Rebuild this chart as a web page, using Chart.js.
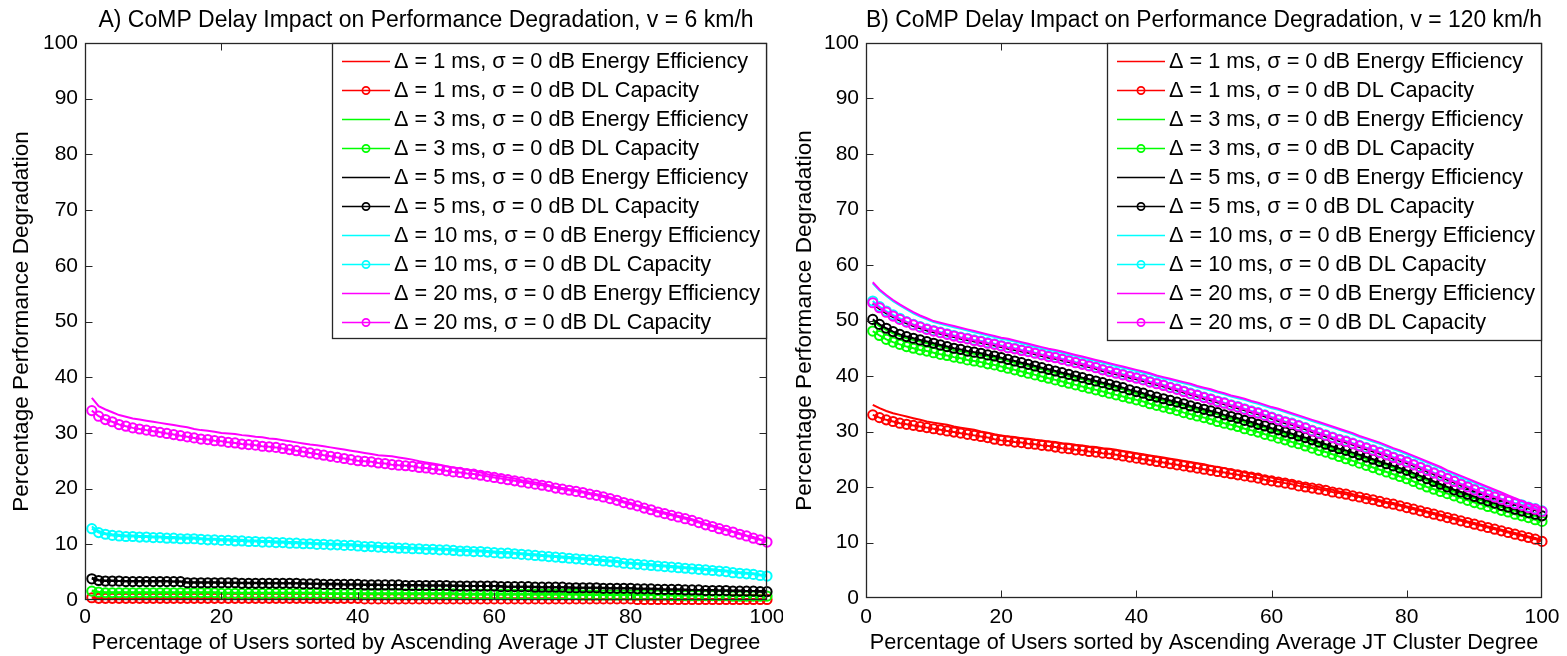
<!DOCTYPE html>
<html>
<head>
<meta charset="utf-8">
<script src="https://cdn.jsdelivr.net/npm/chart.js@4.4.0/dist/chart.umd.min.js"></script>
<style>
  html, body { margin: 0; padding: 0; background: #fff; overflow: hidden; }
  #wrap { position: relative; width: 1567px; height: 656px; }
  canvas { position: absolute; top: 0; }
  #cA { left: 0; }
  #cB { left: 783px; }
</style>
</head>
<body>
<div id="wrap">
  <canvas id="cA" width="783" height="656"></canvas>
  <canvas id="cB" width="784" height="656"></canvas>
</div>
<script>
// ---------------- DATA ----------------
const titleA = 'A) CoMP Delay Impact on Performance Degradation, v = 6 km/h';
const titleB = 'B) CoMP Delay Impact on Performance Degradation, v = 120 km/h';
const xAxisTitle = 'Percentage of Users sorted by Ascending Average JT Cluster Degree';
const yAxisTitle = 'Percentage Performance Degradation';
const delays = [1, 3, 5, 10, 20];           // ms
const metrics = ['Energy Efficiency', 'DL Capacity'];
const seriesColors = ['#ff0000', '#00ff00', '#000000', '#00ffff', '#ff00ff'];
const xTicks = [0, 20, 40, 60, 80, 100];
const yTicks = [0, 10, 20, 30, 40, 50, 60, 70, 80, 90, 100];

const userPct = [1,2,3,4,5,6,7,8,9,10,11,12,13,14,15,16,17,18,19,20,21,22,23,24,25,26,27,28,29,30,
31,32,33,34,35,36,37,38,39,40,41,42,43,44,45,46,47,48,49,50,51,52,53,54,55,56,57,58,59,60,
61,62,63,64,65,66,67,68,69,70,71,72,73,74,75,76,77,78,79,80,81,82,83,84,85,86,87,88,89,90,
91,92,93,94,95,96,97,98,99,100];

// ---- Panel A (v = 6 km/h) ----
const A_ee1 = [0.5,0.4,0.4,0.4,0.4,0.4,0.4,0.4,0.4,0.4, 0.4,0.4,0.4,0.4,0.4,0.4,0.4,0.4,0.4,0.4, 0.4,0.4,0.4,0.4,0.4,0.4,0.4,0.4,0.4,0.4,
 0.3,0.3,0.3,0.3,0.3,0.3,0.3,0.3,0.3,0.3, 0.3,0.3,0.3,0.3,0.3,0.3,0.3,0.3,0.3,0.3, 0.3,0.3,0.3,0.3,0.3,0.3,0.3,0.3,0.3,0.3,
 0.3,0.3,0.3,0.3,0.3,0.3,0.3,0.3,0.3,0.3, 0.2,0.2,0.2,0.2,0.2,0.2,0.2,0.2,0.2,0.2, 0.2,0.2,0.2,0.2,0.2,0.2,0.2,0.2,0.2,0.2,
 0.2,0.2,0.2,0.2,0.2,0.2,0.2,0.2,0.2,0.2];
const A_cap1 = [0.4,0.3,0.3,0.3,0.3,0.3,0.3,0.3,0.3,0.3, 0.3,0.3,0.3,0.3,0.3,0.3,0.3,0.3,0.3,0.3, 0.3,0.3,0.3,0.3,0.3,0.3,0.3,0.3,0.3,0.3,
 0.3,0.3,0.3,0.3,0.3,0.3,0.3,0.3,0.3,0.3, 0.2,0.2,0.2,0.2,0.2,0.2,0.2,0.2,0.2,0.2, 0.2,0.2,0.2,0.2,0.2,0.2,0.2,0.2,0.2,0.2,
 0.2,0.2,0.2,0.2,0.2,0.2,0.2,0.2,0.2,0.2, 0.2,0.2,0.2,0.2,0.2,0.2,0.2,0.2,0.2,0.2, 0.1,0.1,0.1,0.1,0.1,0.1,0.1,0.1,0.1,0.1,
 0.1,0.1,0.1,0.1,0.1,0.1,0.1,0.1,0.1,0.1];
const A_ee3 = [1.7,1.5,1.4,1.4,1.4,1.4,1.4,1.4,1.4,1.4, 1.4,1.4,1.4,1.4,1.4,1.4,1.4,1.4,1.4,1.3, 1.3,1.3,1.3,1.3,1.3,1.3,1.3,1.3,1.3,1.3,
 1.3,1.3,1.3,1.3,1.3,1.2,1.2,1.2,1.2,1.2, 1.2,1.2,1.2,1.2,1.2,1.2,1.2,1.2,1.2,1.2, 1.2,1.2,1.2,1.2,1.1,1.1,1.1,1.1,1.1,1.1,
 1.1,1.1,1.1,1.1,1.1,1.1,1.1,1.1,1.1,1.1, 1.1,1.1,1.0,1.0,1.0,1.0,1.0,1.0,1.0,1.0, 1.0,1.0,1.0,1.0,1.0,0.9,0.9,0.9,0.9,0.9,
 0.9,0.9,0.9,0.9,0.8,0.8,0.8,0.8,0.8,0.8];
const A_cap3 = [1.6,1.4,1.3,1.3,1.3,1.3,1.3,1.3,1.3,1.3, 1.3,1.3,1.3,1.3,1.3,1.3,1.3,1.3,1.3,1.2, 1.2,1.2,1.2,1.2,1.2,1.2,1.2,1.2,1.2,1.2,
 1.2,1.2,1.2,1.2,1.2,1.1,1.1,1.1,1.1,1.1, 1.1,1.1,1.1,1.1,1.1,1.1,1.1,1.1,1.1,1.1, 1.1,1.1,1.1,1.1,1.0,1.0,1.0,1.0,1.0,1.0,
 1.0,1.0,1.0,1.0,1.0,1.0,1.0,1.0,1.0,1.0, 1.0,1.0,0.9,0.9,0.9,0.9,0.9,0.9,0.9,0.9, 0.9,0.9,0.9,0.9,0.9,0.8,0.8,0.8,0.8,0.8,
 0.8,0.8,0.8,0.8,0.7,0.7,0.7,0.7,0.7,0.7];
const A_ee5 = [4.0,3.6,3.5,3.5,3.4,3.4,3.4,3.4,3.4,3.4, 3.4,3.4,3.3,3.3,3.2,3.2,3.2,3.2,3.2,3.1, 3.1,3.1,3.1,3.1,3.1,3.0,3.0,3.0,3.0,3.0,
 3.0,3.0,2.9,2.9,2.9,2.9,2.9,2.8,2.8,2.8, 2.8,2.8,2.8,2.7,2.7,2.7,2.7,2.7,2.7,2.6, 2.6,2.6,2.6,2.6,2.6,2.5,2.5,2.5,2.5,2.5,
 2.5,2.4,2.4,2.4,2.4,2.4,2.3,2.3,2.3,2.3, 2.3,2.2,2.2,2.2,2.2,2.2,2.1,2.1,2.1,2.1, 2.0,2.0,2.0,2.0,1.9,1.9,1.9,1.9,1.8,1.8,
 1.8,1.8,1.7,1.7,1.7,1.7,1.6,1.6,1.6,1.6];
const A_cap5 = [3.8,3.5,3.4,3.4,3.4,3.3,3.3,3.3,3.3,3.3, 3.3,3.3,3.3,3.3,3.1,3.1,3.1,3.1,3.1,3.1, 3.1,3.1,3.0,3.0,3.0,3.0,3.0,3.0,3.0,3.0,
 3.0,2.9,2.9,2.9,2.8,2.8,2.8,2.8,2.8,2.8, 2.7,2.7,2.7,2.7,2.7,2.7,2.6,2.6,2.6,2.6, 2.6,2.6,2.6,2.5,2.5,2.5,2.5,2.5,2.5,2.5,
 2.4,2.4,2.4,2.4,2.4,2.3,2.3,2.3,2.3,2.3, 2.2,2.2,2.2,2.2,2.2,2.1,2.1,2.1,2.1,2.1, 2.0,2.0,2.0,1.9,1.9,1.9,1.9,1.8,1.8,1.8,
 1.7,1.7,1.7,1.7,1.6,1.6,1.6,1.6,1.5,1.5];
const A_ee10 = [13.2,12.4,12.0,11.8,11.7,11.6,11.6,11.5,11.5,11.4, 11.4,11.3,11.3,11.2,11.2,11.2,11.1,11.0,11.0,10.9,
 10.9,10.8,10.8,10.7,10.7,10.6,10.6,10.5,10.5,10.4, 10.4,10.3,10.3,10.2,10.2,10.1,10.1,10.0,10.0,9.9,
 9.8,9.8,9.7,9.6,9.6,9.5,9.5,9.4,9.4,9.3, 9.3,9.2,9.2,9.1,9.0,9.0,8.9,8.9,8.8,8.7,
 8.6,8.6,8.5,8.4,8.3,8.2,8.1,8.0,7.9,7.8, 7.7,7.6,7.5,7.4,7.3,7.2,7.1,7.0,6.8,6.7,
 6.6,6.5,6.4,6.3,6.2,6.1,6.0,5.9,5.8,5.7, 5.6,5.5,5.4,5.3,5.1,5.0,4.9,4.8,4.6,4.5];
const A_cap10 = [12.8,12.1,11.8,11.6,11.5,11.4,11.4,11.3,11.3,11.2, 11.2,11.1,11.1,11.0,11.0,11.0,10.9,10.8,10.8,10.7,
 10.7,10.6,10.6,10.5,10.5,10.4,10.4,10.3,10.3,10.2, 10.2,10.1,10.1,10.0,10.0,9.9,9.9,9.8,9.8,9.7,
 9.6,9.6,9.5,9.4,9.4,9.3,9.3,9.2,9.2,9.1, 9.1,9.0,9.0,8.9,8.8,8.8,8.7,8.7,8.6,8.5,
 8.4,8.4,8.3,8.2,8.1,8.0,7.9,7.8,7.7,7.6, 7.5,7.4,7.3,7.2,7.1,7.0,6.9,6.8,6.6,6.5,
 6.4,6.3,6.2,6.1,6.0,5.9,5.8,5.7,5.6,5.5, 5.4,5.3,5.2,5.1,4.9,4.8,4.7,4.6,4.4,4.3];
const A_ee20 = [36.3,34.8,34.2,33.7,33.2,32.9,32.6,32.4,32.2,32.0, 31.8,31.6,31.4,31.2,31.0,30.7,30.5,30.4,30.2,30.0,
 29.9,29.8,29.6,29.5,29.3,29.2,29.0,28.9,28.7,28.5, 28.3,28.1,27.9,27.8,27.6,27.4,27.2,27.0,26.8,26.6,
 26.4,26.2,26.0,25.9,25.8,25.6,25.4,25.2,24.9,24.7, 24.5,24.3,24.0,23.8,23.6,23.4,23.2,22.9,22.6,22.4,
 22.2,22.0,21.8,21.5,21.3,21.1,20.9,20.6,20.3,20.1, 19.9,19.7,19.5,19.2,19.0,18.7,18.4,18.1,17.7,17.4,
 17.0,16.7,16.3,16.0,15.7,15.4,15.1,14.8,14.5,14.1, 13.7,13.4,13.0,12.7,12.3,12.0,11.6,11.3,10.9,10.6];
const A_cap20 = [34.0,33.0,32.4,32.0,31.5,31.2,30.9,30.7,30.5,30.3, 30.1,29.9,29.7,29.5,29.3,29.1,28.9,28.8,28.6,28.5,
 28.3,28.2,28.0,27.9,27.8,27.6,27.5,27.4,27.2,27.0, 26.8,26.6,26.4,26.2,26.0,25.8,25.6,25.4,25.2,25.0,
 24.9,24.8,24.6,24.5,24.3,24.2,24.1,24.0,23.8,23.7, 23.5,23.4,23.2,23.0,22.9,22.7,22.6,22.4,22.2,22.0,
 21.8,21.6,21.4,21.2,21.0,20.8,20.6,20.4,20.1,19.9, 19.7,19.5,19.3,19.0,18.8,18.5,18.2,17.9,17.5,17.2,
 16.9,16.5,16.2,15.8,15.5,15.2,14.9,14.6,14.3,13.9, 13.5,13.2,12.8,12.5,12.2,11.8,11.5,11.1,10.8,10.4];

// ---- Panel B (v = 120 km/h) ----
const B_ee1 = [34.8,34.2,33.7,33.3,33.0,32.7,32.4,32.1,31.8,31.6, 31.4,31.2,30.9,30.7,30.5,30.3,30.0,29.8,29.5,29.3,
 29.1,29.0,28.8,28.7,28.5,28.4,28.2,28.1,27.9,27.8, 27.6,27.5,27.3,27.2,27.0,26.9,26.7,26.5,26.3,26.1,
 25.9,25.7,25.5,25.3,25.1,24.9,24.7,24.5,24.3,24.1, 23.8,23.6,23.4,23.1,22.9,22.6,22.4,22.2,21.9,21.7,
 21.4,21.2,21.0,20.7,20.5,20.2,20.0,19.7,19.5,19.2, 19.0,18.7,18.4,18.2,17.9,17.6,17.3,17.1,16.8,16.5,
 16.2,15.9,15.6,15.3,15.0,14.7,14.4,14.1,13.8,13.5, 13.2,12.9,12.6,12.3,12.0,11.7,11.4,11.1,10.8,10.4];
const B_cap1 = [33.0,32.5,32.1,31.8,31.5,31.3,31.1,30.9,30.7,30.5, 30.3,30.1,29.9,29.7,29.5,29.3,29.1,28.9,28.6,28.4,
 28.3,28.1,28.0,27.8,27.7,27.5,27.4,27.2,27.0,26.9, 26.7,26.6,26.4,26.3,26.1,26.0,25.8,25.6,25.4,25.2,
 25.0,24.8,24.6,24.4,24.2,24.0,23.8,23.6,23.4,23.2, 23.0,22.8,22.6,22.4,22.2,22.0,21.8,21.6,21.3,21.1,
 20.9,20.7,20.5,20.2,20.0,19.8,19.6,19.4,19.1,18.9, 18.7,18.4,18.2,17.9,17.7,17.4,17.1,16.9,16.6,16.3,
 16.0,15.7,15.4,15.1,14.8,14.5,14.2,13.9,13.6,13.3, 13.0,12.7,12.4,12.1,11.8,11.5,11.2,10.9,10.6,10.2];
const B_ee3 = [49.9,49.0,48.3,47.7,47.2,46.8,46.5,46.2,45.9,45.6, 45.3,45.0,44.7,44.5,44.2,44.0,43.8,43.5,43.3,43.0,
 42.7,42.4,42.1,41.8,41.5,41.2,40.9,40.6,40.3,40.0, 39.7,39.4,39.1,38.8,38.5,38.2,37.9,37.6,37.2,36.9,
 36.6,36.2,35.9,35.6,35.3,35.0,34.7,34.3,34.0,33.7, 33.4,33.1,32.7,32.4,32.1,31.7,31.4,31.0,30.7,30.3,
 30.0,29.6,29.3,28.9,28.6,28.2,27.8,27.4,27.0,26.6, 26.3,25.9,25.5,25.1,24.7,24.3,23.9,23.5,23.1,22.7,
 22.2,21.7,21.2,20.7,20.2,19.7,19.2,18.8,18.4,18.0, 17.6,17.2,16.8,16.4,16.1,15.7,15.4,15.1,14.8,14.5];
const B_cap3 = [48.1,47.3,46.6,46.1,45.7,45.3,45.0,44.7,44.5,44.2, 43.9,43.7,43.4,43.2,42.9,42.7,42.5,42.2,42.0,41.7,
 41.4,41.1,40.8,40.5,40.2,39.9,39.6,39.3,39.0,38.7, 38.4,38.1,37.8,37.5,37.2,36.9,36.6,36.3,36.0,35.7,
 35.4,35.0,34.7,34.4,34.1,33.8,33.4,33.1,32.8,32.5, 32.2,31.8,31.5,31.2,30.9,30.5,30.2,29.9,29.5,29.2,
 28.8,28.5,28.1,27.8,27.4,27.0,26.6,26.3,25.9,25.5, 25.1,24.7,24.3,23.9,23.5,23.1,22.7,22.3,21.9,21.5,
 21.0,20.5,20.0,19.6,19.2,18.8,18.4,18.0,17.6,17.2, 16.9,16.5,16.2,15.8,15.5,15.1,14.8,14.5,14.1,13.8];
const B_ee5 = [53.0,52.1,51.3,50.6,50.0,49.5,49.0,48.6,48.2,47.9, 47.6,47.3,47.0,46.7,46.5,46.2,46.0,45.7,45.5,45.2,
 44.9,44.7,44.4,44.2,43.9,43.6,43.3,43.1,42.8,42.5, 42.2,41.9,41.6,41.3,40.9,40.6,40.3,40.0,39.7,39.4,
 39.1,38.7,38.4,38.1,37.7,37.4,37.0,36.6,36.3,35.9, 35.6,35.2,34.9,34.5,34.2,33.8,33.4,33.1,32.7,32.3,
 31.9,31.5,31.2,30.8,30.4,29.9,29.5,29.1,28.7,28.3, 28.0,27.6,27.2,26.8,26.4,26.0,25.6,25.1,24.7,24.3,
 23.8,23.3,22.8,22.3,21.8,21.3,20.8,20.3,19.8,19.3, 18.8,18.4,18.0,17.6,17.2,16.8,16.5,16.1,15.8,15.4];
const B_cap5 = [50.2,49.3,48.6,48.0,47.5,47.1,46.8,46.5,46.2,45.9, 45.6,45.3,45.0,44.8,44.5,44.3,44.1,43.8,43.6,43.3,
 43.0,42.7,42.4,42.1,41.8,41.5,41.2,40.9,40.6,40.3, 40.0,39.7,39.4,39.1,38.8,38.5,38.2,37.9,37.5,37.2,
 36.9,36.5,36.2,35.9,35.6,35.3,35.0,34.6,34.3,34.0, 33.7,33.4,33.0,32.7,32.4,32.0,31.7,31.3,31.0,30.6,
 30.3,29.9,29.6,29.2,28.9,28.5,28.1,27.7,27.3,26.9, 26.6,26.2,25.8,25.4,25.0,24.6,24.2,23.8,23.4,23.0,
 22.5,22.0,21.5,21.0,20.5,20.0,19.5,19.1,18.7,18.3, 17.9,17.5,17.1,16.7,16.4,16.0,15.7,15.4,15.1,14.8];
const B_ee10 = [56.7,55.4,54.4,53.5,52.7,52.0,51.3,50.7,50.2,49.7, 49.4,49.1,48.8,48.5,48.2,47.9,47.6,47.3,47.0,46.7,
 46.5,46.2,45.9,45.6,45.3,45.0,44.7,44.5,44.2,43.9, 43.6,43.3,43.0,42.7,42.4,42.1,41.8,41.5,41.2,40.9,
 40.6,40.3,39.9,39.6,39.3,39.0,38.7,38.4,38.0,37.7, 37.4,37.0,36.7,36.3,36.0,35.7,35.3,35.0,34.6,34.2,
 33.9,33.5,33.1,32.7,32.3,31.9,31.5,31.1,30.7,30.3, 29.9,29.5,29.0,28.6,28.2,27.8,27.3,26.8,26.4,25.9,
 25.4,24.9,24.4,23.9,23.4,22.8,22.3,21.8,21.3,20.8, 20.3,19.8,19.3,18.8,18.3,17.8,17.3,16.8,16.3,15.8];
const B_cap10 = [53.5,52.5,51.7,51.0,50.4,49.8,49.3,48.9,48.5,48.2, 47.9,47.6,47.3,47.0,46.8,46.5,46.3,46.0,45.8,45.5,
 45.2,45.0,44.7,44.5,44.2,43.9,43.6,43.4,43.1,42.8, 42.5,42.2,41.9,41.6,41.2,40.9,40.6,40.3,40.0,39.7,
 39.4,39.0,38.7,38.4,38.0,37.7,37.3,36.9,36.6,36.2, 35.9,35.5,35.2,34.8,34.5,34.1,33.7,33.4,33.0,32.6,
 32.2,31.8,31.5,31.1,30.7,30.2,29.8,29.4,29.0,28.6, 28.3,27.9,27.5,27.1,26.7,26.3,25.9,25.4,25.0,24.6,
 24.1,23.6,23.1,22.6,22.1,21.6,21.1,20.6,20.1,19.6, 19.1,18.7,18.3,17.9,17.5,17.1,16.8,16.4,16.1,15.7];
const B_ee20 = [56.9,55.6,54.6,53.7,52.9,52.2,51.5,50.9,50.4,49.9, 49.6,49.3,49.0,48.7,48.4,48.1,47.8,47.5,47.2,46.9,
 46.7,46.4,46.1,45.8,45.5,45.2,44.9,44.7,44.4,44.1, 43.8,43.5,43.2,42.9,42.6,42.3,42.0,41.7,41.4,41.1,
 40.8,40.5,40.1,39.8,39.5,39.2,38.9,38.6,38.2,37.9, 37.6,37.2,36.9,36.5,36.2,35.9,35.5,35.2,34.8,34.4,
 34.1,33.7,33.3,32.9,32.5,32.1,31.7,31.3,30.9,30.5, 30.1,29.7,29.2,28.8,28.4,28.0,27.5,27.0,26.6,26.1,
 25.6,25.1,24.6,24.1,23.6,23.0,22.5,22.0,21.5,21.0, 20.5,20.0,19.5,19.0,18.5,18.0,17.5,17.0,16.5,16.0];
const B_cap20 = [53.2,52.3,51.5,50.8,50.2,49.7,49.2,48.8,48.4,48.1, 47.8,47.5,47.2,46.9,46.7,46.4,46.2,45.9,45.7,45.4,
 45.1,44.9,44.6,44.4,44.1,43.8,43.5,43.3,43.0,42.7, 42.4,42.1,41.8,41.5,41.1,40.8,40.5,40.2,39.9,39.6,
 39.3,38.9,38.6,38.3,37.9,37.6,37.2,36.8,36.5,36.1, 35.8,35.4,35.1,34.7,34.4,34.0,33.6,33.3,32.9,32.5,
 32.1,31.7,31.4,31.0,30.6,30.1,29.7,29.3,28.9,28.5, 28.2,27.8,27.4,27.0,26.6,26.2,25.8,25.3,24.9,24.5,
 24.0,23.5,23.0,22.5,22.0,21.5,21.0,20.5,20.0,19.5, 19.0,18.6,18.2,17.8,17.4,17.0,16.7,16.3,16.0,15.6];

// series in legend order: [EE, Cap] for each delay
const seriesA = [[A_ee1, A_cap1], [A_ee3, A_cap3], [A_ee5, A_cap5], [A_ee10, A_cap10], [A_ee20, A_cap20]];
const seriesB = [[B_ee1, B_cap1], [B_ee3, B_cap3], [B_ee5, B_cap5], [B_ee10, B_cap10], [B_ee20, B_cap20]];

// ---------------- RENDER ----------------
const FAMILY = '"Liberation Sans", Arial, Helvetica, sans-serif';
const FS_TICK = 21;
const FS_TEXT = 21.7;
const FS_YTITLE = 22.6;
const FS_TITLE = 23;
const FRAME = '#262626';

function buildDatasets(series) {
  const ds = [];
  let k = 0;
  delays.forEach((d, i) => {
    metrics.forEach((m, j) => {
      const isCap = j === 1;
      ds.push({
        label: 'Δ = ' + d + ' ms, σ = 0 dB ' + m,
        data: userPct.map((x, n) => ({ x: x, y: series[i][j][n] })),
        borderColor: seriesColors[i],
        backgroundColor: 'rgba(0,0,0,0)',
        borderWidth: 2,
        pointRadius: isCap ? 4.6 : 0,
        pointHoverRadius: isCap ? 4.6 : 0,
        pointBorderWidth: 2,
        pointBorderColor: seriesColors[i],
        pointBackgroundColor: 'rgba(0,0,0,0)',
        pointStyle: 'circle',
        tension: 0,
        fill: false,
        clip: false,
        order: 100 - k
      });
      k++;
    });
  });
  return ds;
}

const framePlugin = {
  id: 'matlabFrame',
  afterDatasetsDraw(chart) {
    const { ctx, chartArea: a } = chart;
    const xs = chart.scales.x, ys = chart.scales.y;
    const L = Math.round(a.left) + 0.5, R = Math.round(a.right) - 0.5;
    const T = Math.round(a.top) + 0.5, B = Math.round(a.bottom) - 0.5;
    ctx.save();
    ctx.strokeStyle = FRAME;
    ctx.lineWidth = 1;
    ctx.beginPath();
    const tl = 7;
    xs.ticks.forEach(t => {
      const px = Math.round(xs.getPixelForValue(t.value)) + 0.5;
      if (t.value <= xs.min || t.value >= xs.max) return;
      ctx.moveTo(px, B); ctx.lineTo(px, B - tl);
      ctx.moveTo(px, T); ctx.lineTo(px, T + tl);
    });
    ys.ticks.forEach(t => {
      const py = Math.round(ys.getPixelForValue(t.value)) + 0.5;
      if (t.value <= ys.min || t.value >= ys.max) return;
      ctx.moveTo(L, py); ctx.lineTo(L + tl, py);
      ctx.moveTo(R, py); ctx.lineTo(R - tl, py);
    });
    ctx.stroke();
    ctx.lineWidth = 1.3;
    ctx.strokeRect(L, T, R - L, B - T);
    ctx.restore();
  }
};

const boxLegendPlugin = {
  id: 'boxLegend',
  afterDraw(chart, args, o) {
    const ctx = chart.ctx;
    ctx.save();
    ctx.fillStyle = '#fff';
    ctx.fillRect(o.left, o.top, o.width, o.height);
    ctx.strokeStyle = FRAME;
    ctx.lineWidth = 1.3;
    ctx.strokeRect(o.left + 0.5, o.top + 0.5, o.width - 1, o.height - 1);
    ctx.font = FS_TEXT + 'px ' + FAMILY;
    ctx.textBaseline = 'middle';
    ctx.textAlign = 'left';
    chart.data.datasets.forEach((ds, i) => {
      const y = Math.round(o.rowY0 + i * o.rowH) + 0.5;
      ctx.strokeStyle = ds.borderColor;
      ctx.lineWidth = 1.7;
      ctx.beginPath();
      ctx.moveTo(o.left + 10, y);
      ctx.lineTo(o.left + 58, y);
      ctx.stroke();
      if (ds.pointRadius > 0) {
        ctx.beginPath();
        ctx.arc(o.left + 34, y, 3.6, 0, Math.PI * 2);
        ctx.stroke();
      }
      ctx.fillStyle = '#000';
      ctx.fillText(ds.label, o.left + 62, y + 1);
    });
    ctx.restore();
  }
};

function makeChart(id, title, series, geom) {
  const tickFont = { family: FAMILY, size: FS_TICK, weight: 'normal' };
  const textFont = { family: FAMILY, size: FS_TEXT, weight: 'normal' };
  const yTitleFont = { family: FAMILY, size: FS_YTITLE, weight: 'normal' };
  return new Chart(document.getElementById(id), {
    type: 'line',
    data: { datasets: buildDatasets(series) },
    plugins: [framePlugin, boxLegendPlugin],
    options: {
      responsive: false,
      animation: false,
      events: [],
      layout: { padding: { left: 0, right: geom.padRight, top: 0, bottom: 0 } },
      plugins: {
        legend: { display: false },
        tooltip: { enabled: false },
        title: {
          display: true, text: title, color: '#000', fullSize: false,
          font: { family: FAMILY, size: FS_TITLE, weight: 'normal' },
          padding: { top: 6.5, bottom: 8.9 }
        },
        boxLegend: geom.legend
      },
      scales: {
        x: {
          type: 'linear', min: 0, max: 100,
          afterBuildTicks(s) { s.ticks = xTicks.map(v => ({ value: v })); },
          ticks: { color: '#000', font: tickFont, padding: geom.xTickPad, maxRotation: 0, autoSkip: false },
          grid: { display: false, drawTicks: false },
          border: { display: false },
          title: { display: true, text: xAxisTitle, color: '#000', font: textFont, padding: { top: 0, bottom: 0 } },
          afterFit(s) { s.height = geom.xH; s.paddingLeft = 0; s.paddingRight = 0; }
        },
        y: {
          type: 'linear', min: 0, max: 100,
          afterBuildTicks(s) { s.ticks = yTicks.map(v => ({ value: v })); },
          ticks: { color: '#000', font: tickFont, padding: 7, autoSkip: false },
          grid: { display: false, drawTicks: false },
          border: { display: false },
          title: { display: true, text: yAxisTitle, color: '#000', font: yTitleFont, padding: { top: 8.5, bottom: 0 } },
          afterFit(s) { s.width = geom.yW; s.paddingTop = 0; s.paddingBottom = 0; }
        }
      }
    }
  });
}

makeChart('cA', titleA, seriesA, {
  yW: 85, xH: 56, padRight: 16, xTickPad: 5,
  legend: { left: 332, top: 43, width: 435, height: 296, rowY0: 61, rowH: 29 }
});
makeChart('cB', titleB, seriesB, {
  yW: 83, xH: 58, padRight: 25, xTickPad: 7,
  legend: { left: 324, top: 43, width: 435, height: 298, rowY0: 61, rowH: 29 }
});
</script>
</body>
</html>
